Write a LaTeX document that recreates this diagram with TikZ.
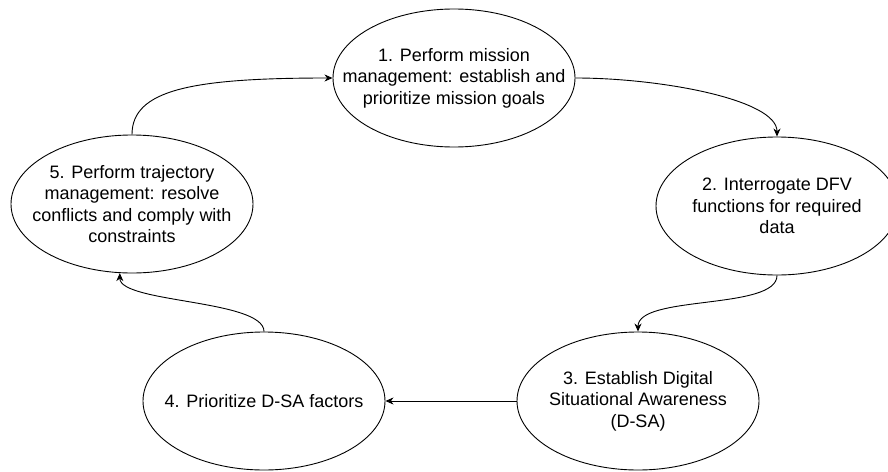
\documentclass[tikz,border=0pt]{standalone}
\usepackage{fontspec}
\setmainfont{Liberation Sans}
\usetikzlibrary{shapes.geometric,arrows.meta}

\begin{document}
\begin{tikzpicture}[x=1pt,y=-1pt,
  stage/.style={draw=black, line width=0.9pt, ellipse, inner sep=0pt,
    minimum width=242pt, minimum height=138pt},
  stagetext/.style={align=center, inner sep=0pt, text=black,
    font=\fontsize{18}{21.5}\selectfont},
  flow/.style={draw=black, line width=0.9pt,
    -{Stealth[length=8pt,width=7pt,inset=2.5pt]}}]

  \useasboundingbox (0,0) rectangle (888,471);
  \clip (0,0) rectangle (888,471);

  % the five stages of the cycle
  \node[stage] (n1) at (454,78) {};
  \node[stage] (n2) at (777,206) {};
  \node[stage] (n3) at (638,401) {};
  \node[stage] (n4) at (264,401) {};
  \node[stage] (n5) at (132,204) {};

  \node[stagetext] (t1) at (n1) {1. Perform mission\\management: establish and\\prioritize mission goals};
  \node[stagetext] (t2) at (n2) {2. Interrogate DFV\\functions for required\\data};
  \node[stagetext] (t3) at (n3) {3. Establish Digital\\Situational Awareness\\(D-SA)};
  \node[stagetext] (t4) at (n4) {4. Prioritize D-SA factors};
  \node[stagetext] (t5) at (n5) {5. Perform trajectory\\management: resolve\\conflicts and comply with\\constraints};

  % connectors between the stages
  \draw[flow] (n5.north) .. controls +(0,-45) and +(-140,0) .. (n1.west);
  \draw[flow] (n1.east) .. controls +(85,0) and +(0,-37) .. (n2.north);
  \draw[flow] (n2.south) .. controls +(0,35) and +(0,-37) .. (n3.north);
  \draw[flow] (n3.west) -- (n4.east);
  \draw[flow] (n4.north) .. controls +(0,-32) and +(0,30) .. (n5.260.9);
\end{tikzpicture}
\end{document}
